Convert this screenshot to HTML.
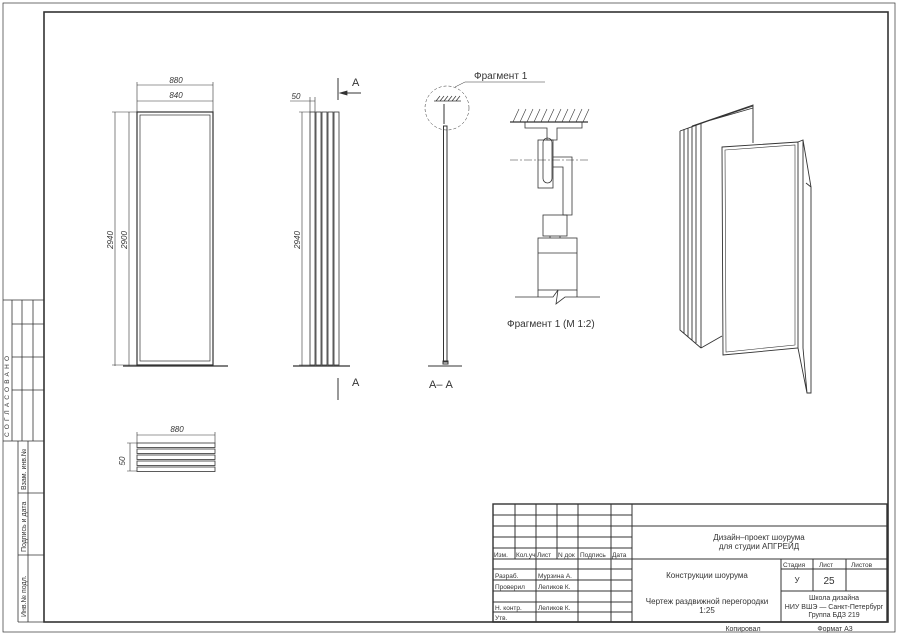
<!DOCTYPE html>
<html><head><meta charset="utf-8"><style>
html,body{margin:0;padding:0;background:#fff}
svg{display:block}
text{font-family:"Liberation Sans",sans-serif;fill:#333}
</style></head><body>
<svg width="900" height="636" viewBox="0 0 900 636" xmlns="http://www.w3.org/2000/svg">
<g fill="none" stroke="#333" stroke-width="0.8">
<rect x="3" y="3" width="892" height="629" stroke-width="0.7"/>
<rect x="44" y="12" width="844" height="610" stroke-width="1.6"/>
<!-- left strip -->
<path d="M3 300H44M12 300V441M22 300V441M33 300V441M12 324H44M12 357H44M12 390H44M3 441H44M18 441V622M28 441V622M18 493H44M18 555H44M18 622H44"/>
</g>
<g font-size="7" fill="#555">
<text transform="translate(9,437) rotate(-90)" letter-spacing="3.2" font-size="6.5">СОГЛАСОВАНО</text>
<text transform="translate(26,490) rotate(-90)">Взам. инв.№</text>
<text transform="translate(26,552) rotate(-90)">Подпись и дата</text>
<text transform="translate(26,617) rotate(-90)">Инв.№ подл.</text>
</g>

<!-- title block -->
<g fill="none" stroke="#333" stroke-width="1">
<rect x="493" y="504" width="394" height="118" stroke-width="1.4"/>
<path d="M632 504V622M632 526H887M632 559H887M781 559V622M781 591H887M813 559V591M846 559V591M781 569H887"/>
<path d="M493 515H632M493 526H632M493 537H632M493 548H632M493 559H632M493 569H632M493 580H632M493 591H632M493 602H632M493 612H632"/>
<path d="M515 504V559M557 504V559M536 504V622M578 504V622M611 504V622"/>
</g>
<g font-size="6.5" fill="#444">
<text x="494" y="557">Изм.</text><text x="516" y="557">Кол.уч</text><text x="537" y="557">Лист</text><text x="558" y="557">N док</text><text x="580" y="557">Подпись</text><text x="612" y="557">Дата</text>
<text x="495" y="578">Разраб.</text><text x="538" y="578">Мурзина А.</text>
<text x="495" y="589">Проверил</text><text x="538" y="589">Леликов К.</text>
<text x="495" y="610">Н. контр.</text><text x="538" y="610">Леликов К.</text>
<text x="495" y="620">Утв.</text>
<text x="783" y="567">Стадия</text><text x="819" y="567">Лист</text><text x="851" y="567">Листов</text>
</g>
<g font-size="8" fill="#444" text-anchor="middle">
<text x="759" y="540">Дизайн–проект шоурума</text>
<text x="759" y="549">для студии АПГРЕЙД</text>
<text x="707" y="578">Конструкции шоурума</text>
<text x="707" y="604">Чертеж раздвижной перегородки</text>
<text x="707" y="613">1:25</text>
<text x="797" y="583">У</text>
<text x="829" y="584" font-size="10">25</text>
<text x="834" y="600" font-size="7">Школа дизайна</text>
<text x="834" y="609" font-size="7">НИУ ВШЭ — Санкт-Петербург</text>
<text x="834" y="617" font-size="7">Группа БДЗ 219</text>
<text x="743" y="631" font-size="7">Копировал</text>
<text x="835" y="631" font-size="7">Формат А3</text>
</g>

<g fill="none" stroke="#333" stroke-width="0.8">
<!-- front view -->
<rect x="137" y="112" width="76" height="253" stroke-width="1.2"/>
<rect x="140" y="115" width="70" height="246" stroke-width="0.7"/>
<path d="M123 366H228" stroke-width="1.2"/>
<path d="M137 85H213M137 101H213M137 82V112M213 82V112M137 98V112M213 98V112" stroke-width="0.6"/>
<path d="M115 112V366M129 112V366M112 112H137M112 365H137" stroke-width="0.6"/>
<!-- side view -->
<rect x="310" y="112" width="5" height="253"/><rect x="316" y="112" width="5" height="253"/><rect x="322" y="112" width="5" height="253"/><rect x="328" y="112" width="5" height="253"/><rect x="334" y="112" width="5" height="253"/>
<path d="M293 366H350" stroke-width="1.2"/>
<path d="M302 112V366M299 112H310M299 365H310M290 101H315M310 97V112M315 97V112" stroke-width="0.6"/>
<path d="M338 78V100M361 93H340M338 378V400" stroke-width="1"/>
<path d="M340 93l7-2v4z" fill="#333"/>
<!-- section A-A -->
<circle cx="447" cy="108" r="22" stroke-dasharray="3 2" stroke-width="0.5"/>
<path d="M455 87L465 82H545" stroke-width="0.5"/>
<path d="M434 101H461M436 101l4-5M440 101l4-5M444 101l4-5M448 101l4-5M452 101l4-5M456 101l4-5" stroke-width="0.7"/>
<rect x="443.5" y="126" width="3.5" height="236" stroke-width="1"/>
<path d="M444 104v20M443 361h5v3h-5zM428 366H462" stroke-width="1"/>
<!-- fragment -->
<path d="M510 122H588" stroke-width="1.2"/>
<path d="M513 122l6-13M520 122l6-13M527 122l6-13M534 122l6-13M541 122l6-13M548 122l6-13M555 122l6-13M562 122l6-13M569 122l6-13M576 122l6-13M583 122l6-13" stroke-width="0.6"/>
<path d="M525 122V128H547V140H557V128H582V122"/>
<rect x="538" y="140" width="15" height="48"/>
<rect x="543" y="138" width="9" height="45" rx="4.5"/>
<path d="M510 160H590" stroke-dasharray="8 2 2 2" stroke-width="0.5"/>
<path d="M553 157H572V215H563V167H553"/>
<rect x="543" y="215" width="24" height="21"/>
<path d="M550 236V238M560 236V238"/>
<rect x="538" y="238" width="39" height="52"/>
<path d="M538 253H577M538 290V297M577 290V297M515 297H553L558 290L556 304L565 297H600" stroke-width="0.8"/>
<!-- plan -->
<path d="M137 435H215M137 432V443M215 432V443" stroke-width="0.6"/>
<rect x="137" y="443" width="78" height="4.5"/><rect x="137" y="449" width="78" height="4.5"/><rect x="137" y="455" width="78" height="4.5"/><rect x="137" y="461" width="78" height="4.5"/><rect x="137" y="467" width="78" height="4.5"/>
<path d="M130 443V471M127 443H137M127 471H137" stroke-width="0.6"/>
<!-- 3D -->
<g stroke-width="0.9">
<path d="M680 131L753 105V143M680 131V330L701 348M684 129V333M688 128V337M692 126V340M696 125V343M701 123V348M701 123L753 108M696 125L753 106M692 126L753 105M701 348L722 336"/>
<path d="M722 147L798 142V348L723 355Z"/>
<path d="M725 150L795 145V345L726 352Z" stroke-width="0.6"/>
<path d="M798 142L803 140L811 187V393H807L798 348M803 140V348L807 393M806 183L811 187"/>
</g>
</g>

<g font-size="8" font-style="italic" fill="#444" text-anchor="middle">
<text x="176" y="83">880</text>
<text x="176" y="98">840</text>
<text transform="translate(113,240) rotate(-90)">2940</text>
<text transform="translate(127,240) rotate(-90)">2900</text>
<text transform="translate(300,240) rotate(-90)">2940</text>
<text x="296" y="99">50</text>
<text x="177" y="432">880</text>
<text transform="translate(125,461) rotate(-90)">50</text>
</g>
<g font-size="11" fill="#444">
<text x="352" y="86">А</text>
<text x="352" y="386">А</text>
<text x="429" y="388">А– А</text>
<text x="474" y="79" font-size="10">Фрагмент 1</text>
<text x="507" y="327" font-size="10">Фрагмент 1 (М 1:2)</text>
</g>
</svg>
</body></html>
